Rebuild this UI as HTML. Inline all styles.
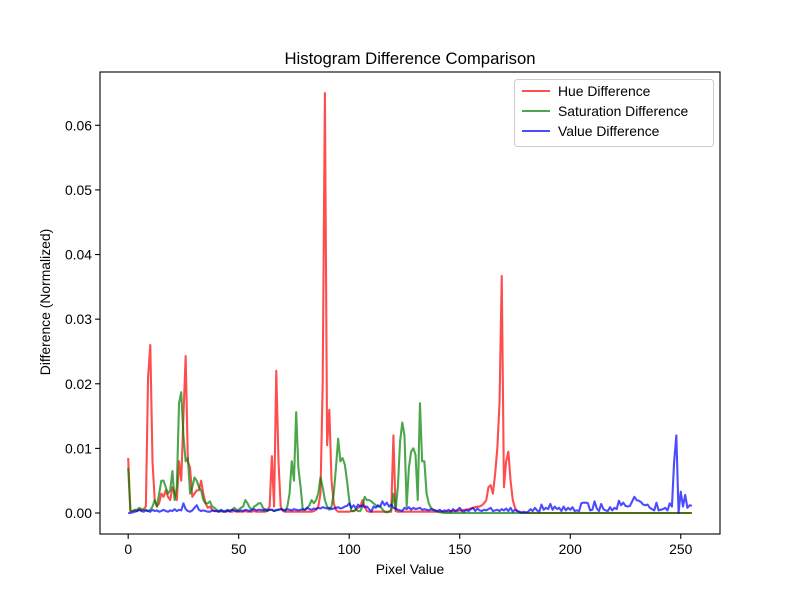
<!DOCTYPE html>
<html><head><meta charset="utf-8"><style>
body{margin:0;background:#fff;}
svg{display:block;font-family:"Liberation Sans","DejaVu Sans",sans-serif;}
</style></head><body>
<svg id="chart" width="800" height="600" viewBox="0 0 800 600">
<rect width="800" height="600" fill="#fff"/>
<text x="410" y="64" text-anchor="middle" font-size="16.7">Histogram Difference Comparison</text>
<g id="plot"></g>
<text x="410" y="574" text-anchor="middle" font-size="13.9">Pixel Value</text>
<text transform="translate(50,302) rotate(-90)" text-anchor="middle" font-size="13.9">Difference (Normalized)</text>
</svg>
<script>
// values in units of 0.001 (normalized difference)
const hueValues=[8.5,0.3,0.3,0.4,0.3,0.5,0.4,0.6,1,21,
26,8,2,1,1.5,3,2.5,3.5,2.5,2,
4,3,2,8,5,15,24.3,8,7,2.5,
3,3.5,3.5,5,3,1.5,0.8,1,0.5,0.3,
0.3,0.2,0.3,0.2,0.2,0.3,0.2,0.2,0.3,0.2,
0.2,0.2,0.2,0.3,0.2,0.2,0.2,0.3,0.2,0.2,
0.2,0.2,0.2,0.5,1,8.8,1,22,8,1,
0.3,0.2,0.2,0.2,0.2,0.2,0.2,0.2,0.2,0.2,
0.2,0.2,0.2,0.2,0.3,0.5,1,3,20,65,
10.5,16,5,1.5,0.5,0.2,0.2,0.2,0.2,0.2,
0.2,0.3,0.3,0.5,0.8,1,2,1,0.3,0.2,
0.2,0.2,0.2,0.2,0.2,0.2,0.2,0.2,0.2,0.2,
12,0.3,0.2,0.2,0.2,0.2,0.2,0.2,0.2,0.2,
0.2,0.2,0.2,0.2,0.2,0.2,0.2,0.2,0.2,0.2,
0.2,0.2,0.2,0.2,0.2,0.2,0.3,0.3,0.3,0.3,
0.4,0.4,0.5,0.5,0.6,0.7,0.8,0.9,1,1,
1.2,1.5,2,4,4.3,3,6,10,17,36.7,
4,8,9.5,5,2,0.8,0.3,0.1,0,0,
0,0,0,0,0,0,0,0,0,0,
0,0,0,0,0,0,0,0,0,0,
0,0,0,0,0,0,0,0,0,0,
0,0,0,0,0,0,0,0,0,0,
0,0,0,0,0,0,0,0,0,0,
0,0,0,0,0,0,0,0,0,0,
0,0,0,0,0,0,0,0,0,0,
0,0,0,0,0,0];
const satValues=[7,0.3,0.3,0.5,0.5,0.8,0.6,0.5,0.5,0.3,
0.5,1,2,1,3,5,5,4,3,3.5,
6.5,2,4,17,18.7,12,8,8.5,3,4,
5.5,5,4,3.5,2,1.5,1.5,1.8,1,0.8,
0.5,0.3,0.3,0.2,0.3,0.5,0.3,0.5,0.8,0.5,
0.5,0.8,1,2,1.5,0.8,0.5,1,1.2,1.5,
1.5,0.8,0.3,0.3,0.5,0.5,0.3,0.5,0.5,0.6,
0.5,0.3,1,3,8,5,15.6,7,4,0.5,
0.5,0.8,1.2,2,1.5,2,3,5.5,4,2,
1,0.5,1,3,7,11.5,8,8.5,7.5,5,
2,0.3,0.3,0.5,0.3,0.3,1,2.5,2,2,
1.8,1.5,1.2,1,1,0.6,0.2,0.1,0.2,0.5,
3,0.5,4,11,14,12,1,7,9.5,10,
9,2,17,8,8,3,1.5,0.8,0.5,0.3,
0.2,0.1,0.1,0,0,0,0,0,0,0,
0,0,0,0,0,0,0,0,0,0,
0,0,0,0,0,0,0,0,0,0,
0,0,0,0,0,0,0,0,0,0,
0,0,0,0,0,0,0,0,0,0,
0,0,0,0,0,0,0,0,0,0,
0,0,0,0,0,0,0,0,0,0,
0,0,0,0,0,0,0,0,0,0,
0,0,0,0,0,0,0,0,0,0,
0,0,0,0,0,0,0,0,0,0,
0,0,0,0,0,0,0,0,0,0,
0,0,0,0,0,0];
const valValues=[0,0,0.1,0.2,0.3,0.5,0.3,0.2,0.4,0.3,
0.2,0.5,0.3,0.4,0.2,0.3,0.5,0.3,0.2,0.4,
0.3,0.6,0.3,0.5,0.4,1.5,0.6,0.3,0.2,0.4,
0.8,1.2,0.5,0.3,0.4,0.3,0.2,0.2,0.4,0.3,
0.3,0.2,0.5,0.3,0.2,0.4,0.3,0.5,0.4,0.3,
0.3,0.4,0.3,0.5,0.4,0.3,0.5,0.6,0.4,0.5,
0.5,0.4,0.6,0.4,0.5,0.5,0.3,0.4,0.5,0.6,
0.5,0.4,0.6,0.5,0.4,0.6,0.5,0.4,0.5,0.6,
0.5,0.8,0.6,0.5,0.7,0.6,0.8,0.7,0.9,0.8,
0.7,0.8,0.6,0.7,0.8,0.9,0.7,0.8,1.0,1.1,
1.5,0.8,1.2,0.7,1.3,1.0,1.2,0.9,1.0,0.6,
0.2,1.0,0.8,1.2,1.0,1.8,1.2,1.6,1.0,1.3,
0.8,0.7,0.5,0.4,0.3,0.8,0.6,0.9,0.5,0.8,
0.6,0.7,0.8,0.5,0.6,0.5,0.4,0.6,0.5,0.4,
0.3,0.5,0.2,0.4,0.3,0.5,0.2,0.6,0.3,0.5,
0.8,0.3,0.2,0.5,0.3,0.6,0.8,0.3,0.7,0.4,
0.3,0.5,0.4,0.6,0.8,0.3,0.4,0.5,0.3,0.6,
0.4,0.7,0.3,0.8,0.2,0.5,0.3,0.2,0.1,0.2,
0.1,0.2,0.6,0.3,0.8,0.4,0.2,1.3,0.5,0.8,
0.6,1.4,0.5,1.0,0.6,0.8,0.3,1.0,0.4,0.8,
0.5,0.9,0.3,0.4,0.3,1.5,1.6,1.6,1.5,0.4,
0.5,1.8,0.7,0.3,1.4,0.6,0.4,0.3,0.9,0.4,
0.8,0.6,1.9,1.2,1.6,1.1,1.0,1.1,1.8,2.5,
2.0,1.9,1.7,1.3,1.2,1.3,0.8,0.6,0.4,1.6,
0.4,0.5,0.6,0.8,0.4,1.5,1.0,8,12,0,
3.3,1,2.8,0.8,1.2,1.1];
const xTicks=[0,50,100,150,200,250];
const yTicks=[0,0.01,0.02,0.03,0.04,0.05,0.06];
const yTickLabels=["0.00","0.01","0.02","0.03","0.04","0.05","0.06"];
const seriesNames=["Hue Difference","Saturation Difference","Value Difference"];
const UNIT=0.001;

const L=100,R=720,T=72,B=534;
const xMin=-12.75,xMax=267.75,yMin=-0.00325,yMax=0.06825;
const xs=v=>L+(v-xMin)/(xMax-xMin)*(R-L);
const ys=v=>B-(v-yMin)/(yMax-yMin)*(B-T);
const NS="http://www.w3.org/2000/svg";
const g=document.getElementById('plot');
function mk(tag,attrs){const e=document.createElementNS(NS,tag);for(const k in attrs)e.setAttribute(k,attrs[k]);return e;}

const colors=["rgba(255,0,0,0.7)","rgba(0,128,0,0.7)","rgba(0,0,255,0.7)"];
const allSeries=[hueValues,satValues,valValues];
const lineNames=['hue-difference-line','saturation-difference-line','value-difference-line'];
allSeries.forEach((arr,si)=>{
  const pts=arr.map((v,i)=>xs(i).toFixed(2)+','+ys(v*UNIT).toFixed(2)).join(' ');
  const pl=mk('polyline',{points:pts,fill:'none',stroke:colors[si],'stroke-width':2.08,'stroke-linejoin':'round'});
  
  
  g.appendChild(pl);
});

const frame=mk('rect',{x:L,y:T,width:R-L,height:B-T,fill:'none',stroke:'#000','stroke-width':1.1});


g.appendChild(frame);

xTicks.forEach(t=>{
  const x=xs(t);
  const tk=mk('line',{x1:x,x2:x,y1:B,y2:B+4.9,stroke:'#000','stroke-width':1.1});
  
  
  g.appendChild(tk);
  const tx=mk('text',{x:x,y:B+20,'text-anchor':'middle','font-size':13.9});
  tx.textContent=String(t);
  
  
  g.appendChild(tx);
});
yTicks.forEach((t,i)=>{
  const y=ys(t);
  const tk=mk('line',{x1:L-4.9,x2:L,y1:y,y2:y,stroke:'#000','stroke-width':1.1});
  
  
  g.appendChild(tk);
  const tx=mk('text',{x:L-8,y:y+5,'text-anchor':'end','font-size':13.9});
  tx.textContent=yTickLabels[i];
  
  
  g.appendChild(tx);
});

const lg=mk('g',{});


g.appendChild(lg);
const lbox=mk('rect',{x:514.5,y:79.5,width:199,height:67,rx:3,fill:'rgba(255,255,255,0.8)',stroke:'#ccc','stroke-width':1});


lg.appendChild(lbox);
seriesNames.forEach((n,i)=>{
  const y=91+i*20;
  const ln=mk('line',{x1:522,x2:550,y1:y,y2:y,stroke:colors[i],'stroke-width':2.08});
  
  
  lg.appendChild(ln);
  const tx=mk('text',{x:558,y:y+5,'font-size':13.9});
  tx.textContent=n;
  
  
  lg.appendChild(tx);
});
</script>
</body></html>
